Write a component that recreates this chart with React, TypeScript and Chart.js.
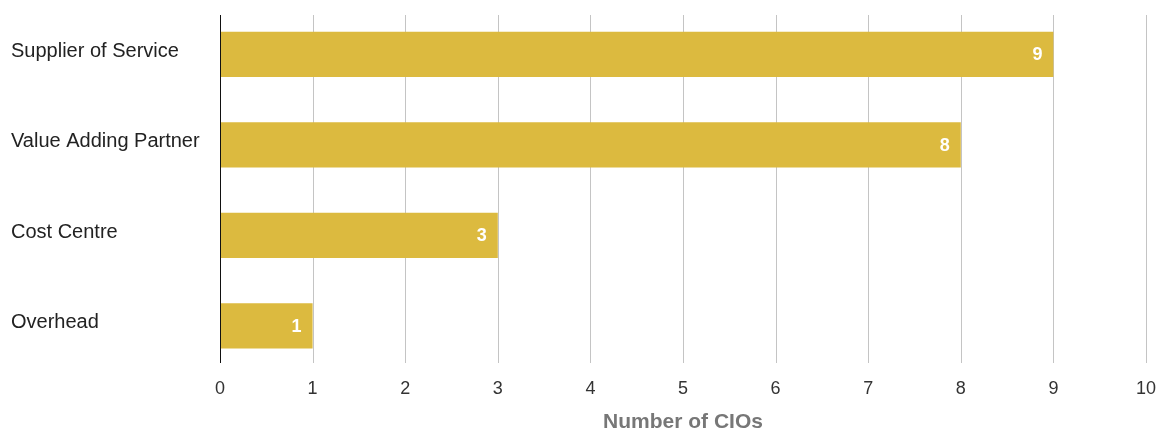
import React, { useEffect, useRef } from "react";
import { Chart, registerables } from "chart.js";

Chart.register(...registerables);

const categories = ["Supplier of Service", "Value Adding Partner", "Cost Centre", "Overhead"];
const values = [9, 8, 3, 1];
const xTicks = [0, 1, 2, 3, 4, 5, 6, 7, 8, 9, 10];
const xTitle = "Number of CIOs";

const FONT = "'Helvetica Neue', Helvetica, 'Liberation Sans', Arial, sans-serif";

const gridPlugin = {
  id: "customGrid",
  beforeDatasetsDraw(chart: any) {
    const { ctx, scales } = chart;
    const x = scales.x;
    const top = 15;
    const bottom = 363;
    ctx.save();
    ctx.lineWidth = 1;
    xTicks.forEach((t) => {
      const px = Math.round(x.getPixelForValue(t)) + 0.5;
      ctx.strokeStyle = t === 0 ? "#111111" : "#c4c4c4";
      ctx.beginPath();
      ctx.moveTo(px, top);
      ctx.lineTo(px, bottom);
      ctx.stroke();
    });
    ctx.restore();
  },
  afterDatasetsDraw(chart: any) {
    const { ctx } = chart;
    const meta = chart.getDatasetMeta(0);
    ctx.save();
    ctx.fillStyle = "#ffffff";
    ctx.font = `bold 18px ${FONT}`;
    ctx.textAlign = "right";
    ctx.textBaseline = "middle";
    meta.data.forEach((bar: any, i: number) => {
      ctx.fillText(String(values[i]), bar.x - 11, bar.y + 1);
    });
    const x = chart.scales.x;
    const px = Math.round(x.getPixelForValue(0)) + 0.5;
    ctx.strokeStyle = "#111111";
    ctx.beginPath();
    ctx.moveTo(px, 15);
    ctx.lineTo(px, 363);
    ctx.stroke();
    ctx.restore();
  },
};

export default function App() {
  const ref = useRef<HTMLCanvasElement>(null);
  useEffect(() => {
    if (!ref.current) return;
    const chart = new Chart(ref.current, {
      type: "bar",
      data: {
        labels: categories,
        datasets: [
          {
            data: values,
            backgroundColor: "#dcba3f",
            barPercentage: 0.5,
            categoryPercentage: 1,
          },
        ],
      },
      options: {
        indexAxis: "y",
        animation: false,
        responsive: false,
        maintainAspectRatio: false,
        layout: { padding: { top: 9, left: 11, right: 0, bottom: 0 } },
        plugins: { legend: { display: false }, tooltip: { enabled: false } },
        scales: {
          x: {
            min: 0,
            max: 10,
            afterBuildTicks: (s: any) => {
              s.ticks = xTicks.map((v) => ({ value: v }));
            },
            grid: { display: false, drawTicks: false },
            border: { display: false },
            ticks: {
              padding: 7,
              color: "#333333",
              font: { family: FONT, size: 18 },
            },
            title: {
              display: true,
              text: xTitle,
              color: "#777777",
              font: { family: FONT, size: 21, weight: "bold" },
              padding: { top: 0, bottom: 0 },
            },
            afterFit: (s: any) => {
              s.height = 64;
              s.paddingRight = 10;
              s.paddingLeft = 0;
            },
          },
          y: {
            grid: { display: false, drawTicks: false },
            border: { display: false },
            ticks: {
              crossAlign: "far",
              padding: 0,
              labelOffset: -3,
              color: "#222222",
              font: { family: FONT, size: 20 },
            },
            afterFit: (s: any) => {
              s.width = 209;
              s.paddingTop = 0;
              s.paddingBottom = 0;
            },
          },
        },
      },
      plugins: [gridPlugin],
    });
    return () => chart.destroy();
  }, []);
  return (
    <div style={{ position: "fixed", left: 0, top: 0, width: 1156, height: 435, background: "#fff" }}>
      <canvas ref={ref} width={1156} height={435} style={{ display: "block" }} />
    </div>
  );
}
